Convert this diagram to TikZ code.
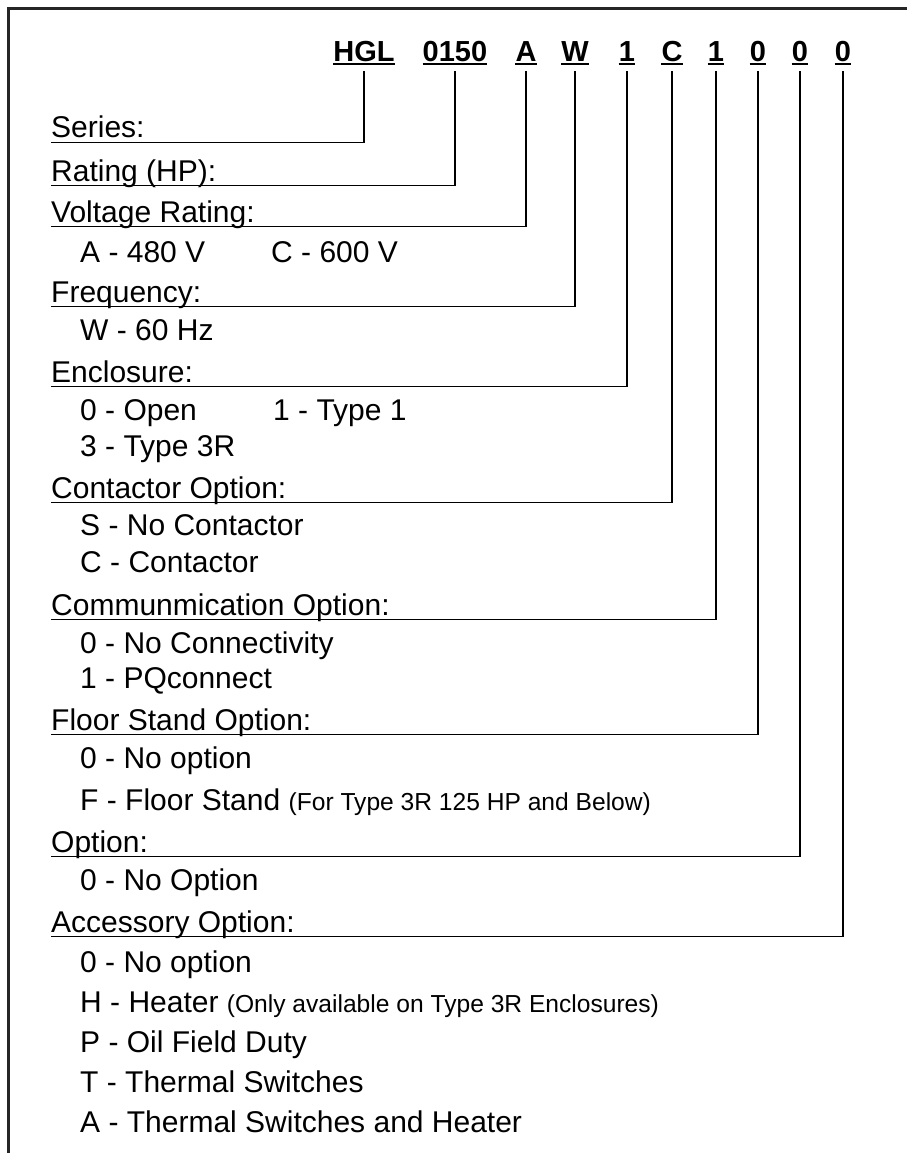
\documentclass[tikz,border=0pt]{standalone}
\usepackage{xcolor}
\usepackage{fontspec}
\setmainfont{Liberation Sans}
\usepackage{tikz}
\usetikzlibrary{positioning, calc}
\newcommand{\smallnote}[1]{{\fontsize{24.6}{26}\selectfont#1}}

\begin{document}
\begin{tikzpicture}[x=1pt, y=-1pt,
    code/.style={anchor=base, inner sep=0pt, font=\fontsize{29}{32}\selectfont\bfseries},
    cat/.style={anchor=base west, inner sep=0pt, font=\fontsize{30}{34}\selectfont},
    choice/.style={anchor=base west, inner sep=0pt, font=\fontsize{30}{34}\selectfont},
    wire/.style={line width=1.6pt}]
  \useasboundingbox (0,0) rectangle (907,1153);
  % frame: left and top only
  \draw[line width=2.4pt, black!85] (8.5,1153) |- (907,8.5);
  % model code
  \foreach \txt/\x/\nm in {HGL/364/hgl, 0150/455/hp, A/526/volt, W/575/freq, 1/627/encl,
      C/672/cont, 1/716/comm, 0/758/stand, 0/800/opt, 0/843/acc} {
    \node[code] (\nm) at (\x,62) {\txt};
    \draw[line width=2pt] ([yshift=-2.5pt]\nm.base west) -- ([yshift=-2.5pt]\nm.base east);
  }
  % categories, underlined and tied to their code letter
  \foreach \txt/\y/\nm/\to in {Series:/138/l-ser/hgl, Rating (HP):/181/l-hp/hp,
      Voltage Rating:/222/l-volt/volt, Frequency:/302/l-freq/freq,
      Enclosure:/382/l-encl/encl, Contactor Option:/498/l-cont/cont,
      Communmication Option:/615/l-comm/comm, Floor Stand Option:/730/l-stand/stand,
      Option:/852/l-opt/opt, Accessory Option:/932/l-acc/acc} {
    \node[cat] (\nm) at (51,\y) {\txt};
    \draw[wire] ([yshift=-4.5pt]\nm.base west) -| ([yshift=-9pt]\to.base);
  }
  % choices
  \node[choice] (v-a) at (80,262) {A - 480 V};
  \node[choice] (v-c) at (271,262) {C - 600 V};
  \node[choice] (f-w) at (80,340) {W - 60 Hz};
  \node[choice] (e-0) at (80,420) {0 - Open};
  \node[choice] (e-1) at (273,420) {1 - Type 1};
  \node[choice] (e-3) at (80,456) {3 - Type 3R};
  \node[choice] (c-s) at (80,535) {S - No Contactor};
  \node[choice] (c-c) at (80,572) {C - Contactor};
  \node[choice] (m-0) at (80,653) {0 - No Connectivity};
  \node[choice] (m-1) at (80,688) {1 - PQconnect};
  \node[choice] (s-0) at (80,768) {0 - No option};
  \node[choice] (s-f) at (80,810) {F - Floor Stand \smallnote{(For Type 3R 125 HP and Below)}};
  \node[choice] (o-0) at (80,890) {0 - No Option};
  \node[choice] (a-0) at (80,972) {0 - No option};
  \node[choice] (a-h) at (80,1012) {H - Heater \smallnote{(Only available on Type 3R Enclosures)}};
  \node[choice] (a-p) at (80,1052) {P - Oil Field Duty};
  \node[choice] (a-t) at (80,1092) {T - Thermal Switches};
  \node[choice] (a-a) at (80,1132) {A - Thermal Switches and Heater};
\end{tikzpicture}
\end{document}
